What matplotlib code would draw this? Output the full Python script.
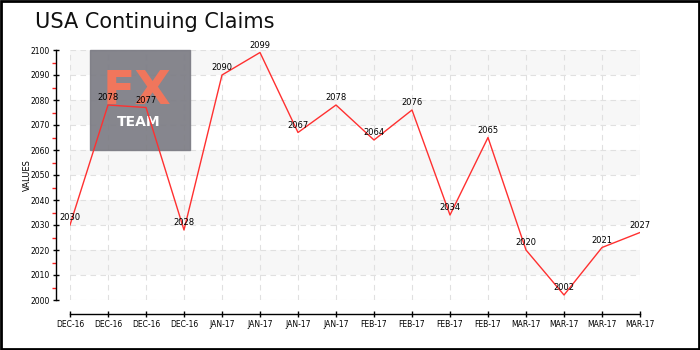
import matplotlib
matplotlib.use("Agg")
from matplotlib import pyplot as plt
from matplotlib.patches import Rectangle
from matplotlib.ticker import MultipleLocator

# chart data
months = ["DEC-16"] * 4 + ["JAN-17"] * 4 + ["FEB-17"] * 4 + ["MAR-17"] * 4
claims = [2030, 2078, 2077, 2028, 2090, 2099, 2067, 2078,
          2064, 2076, 2034, 2065, 2020, 2002, 2021, 2027]

def main():
    fig = plt.figure(figsize=(7, 3.5), dpi=100)
    fig.patch.set_facecolor("white")
    ax = fig.add_axes([70 / 700, 50 / 350, 570 / 700, 250 / 350])

    ind = list(range(len(claims)))
    ax.set_xlim(0, len(claims) - 1)
    ax.set_ylim(2000, 2100)

    # alternating bands
    for lo in range(2010, 2100, 20):
        ax.axhspan(lo, lo + 10, color="#f7f7f7", zorder=0, lw=0)

    ax.set_axisbelow(True)
    ax.grid(True, which="major", color="#e0e0e0", linestyle=(0, (5, 4)), lw=0.8)

    # logo, under the line but over the bands (a bit see-through, grid shows faintly)
    logo = Rectangle((90 / 700, 200 / 350), 100 / 700, 100 / 350,
                     transform=fig.transFigure, color="#7d7d85", alpha=0.93, zorder=1, clip_on=False)
    ax.add_patch(logo)
    ax.text(137 / 700, 259 / 350, "FX", color="#f0765c", fontsize=34, fontweight="bold",
            ha="center", va="center", zorder=1.5, transform=fig.transFigure)
    ax.text(139 / 700, 228 / 350, "TEAM", color="white", fontsize=10, fontweight="bold",
            ha="center", va="center", zorder=1.5, transform=fig.transFigure)

    ax.plot(ind, claims, color="#ff3030", lw=1, zorder=4)
    for i, v in zip(ind, claims):
        ax.annotate(str(v), (i, v), xytext=(0, 2), textcoords="offset points",
                    ha="center", va="bottom", fontsize=6, zorder=5)

    ax.set_xticks(ind)
    ax.set_xticklabels(months, fontsize=5.5)
    ax.yaxis.set_major_locator(MultipleLocator(10))
    ax.yaxis.set_minor_locator(MultipleLocator(5))
    ax.tick_params(axis="y", which="major", labelsize=5.5, direction="inout", length=5, width=1, pad=2)
    ax.tick_params(axis="y", which="minor", color="#ff2020", direction="out", length=3, width=1)
    ax.tick_params(axis="x", labelsize=5.5, direction="inout", length=5, width=1, pad=2)
    ax.set_ylabel("VALUES", fontsize=6, labelpad=-1)

    for s in ["top", "right"]:
        ax.spines[s].set_visible(False)
    ax.spines["left"].set_position(("outward", 10))
    ax.spines["bottom"].set_position(("outward", 10))
    ax.spines["left"].set_linewidth(1)
    ax.spines["bottom"].set_linewidth(1)
    ax.set_facecolor("none")

    fig.text(35 / 700, 328 / 350, "USA Continuing Claims", fontsize=15, ha="left", va="center",
             color="#111111")

    fig.patches.append(Rectangle((0.001, 0.002), 0.997, 0.996, transform=fig.transFigure,
                                 fill=False, edgecolor="black", lw=2))

    fig.savefig("out.png", dpi=100)


if __name__ == "__main__":
    main()
